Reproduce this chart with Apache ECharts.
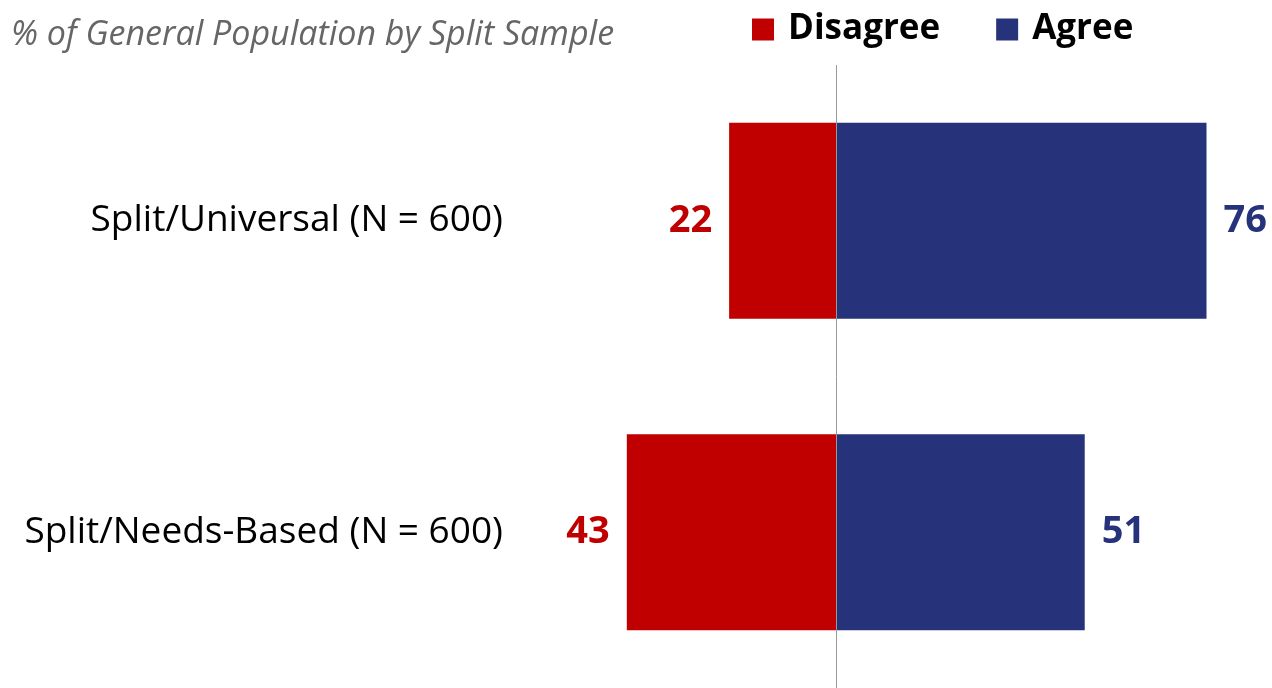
<!DOCTYPE html>
<html>
<head>
<meta charset="utf-8">
<script src="https://cdn.jsdelivr.net/npm/echarts@6/dist/echarts.min.js"></script>
<style>
  html, body { margin: 0; padding: 0; background: #fff; }
  #chart { width: 1272px; height: 688px; }
</style>
</head>
<body>
<div id="chart"></div>
<script>
const categories = ['Split/Universal (N = 600)', 'Split/Needs-Based (N = 600)'];
const disagree = [22, 43];
const agree = [76, 51];

const RED = '#C00000';
const BLUE = '#26337A';
const FONT = '"Open Sans", "Noto Sans", sans-serif';

const chart = echarts.init(document.getElementById('chart'));

const option = {
  animation: false,
  title: {
    text: '% of General Population by Split Sample',
    left: 6,
    top: 13,
    textStyle: {
      fontFamily: FONT,
      fontStyle: 'italic',
      fontWeight: 'normal',
      fontSize: 34,
      color: '#666666'
    }
  },
  legend: {
    data: ['Disagree', 'Agree'],
    left: 747,
    top: 7,
    icon: 'rect',
    itemWidth: 22,
    itemHeight: 22,
    itemGap: 56,
    textStyle: {
      fontFamily: FONT,
      fontWeight: 'bold',
      fontSize: 35,
      color: '#000',
      padding: [0, 0, 0, 9]
    }
  },
  grid: {
    left: 544,
    right: 46,
    top: 65,
    bottom: 0
  },
  xAxis: {
    type: 'value',
    min: -60,
    max: 80,
    axisLine: { show: false },
    axisTick: { show: false },
    axisLabel: { show: false },
    splitLine: { show: false }
  },
  yAxis: {
    type: 'category',
    inverse: true,
    data: categories,
    axisLine: { show: false },
    axisTick: { show: false },
    axisLabel: {
      margin: 41,
      fontFamily: FONT,
      fontSize: 37,
      color: '#000',
      padding: [6, 0, 0, 0]
    }
  },
  series: [
    {
      name: 'Disagree',
      type: 'bar',
      stack: 'total',
      barWidth: 196,
      data: disagree.map(v => -v),
      itemStyle: { color: RED },
      label: {
        show: true,
        position: 'left',
        distance: 17,
        formatter: p => Math.abs(p.value),
        fontFamily: FONT,
        fontWeight: 'bold',
        fontSize: 38,
        color: RED
      }
    },
    {
      name: 'Agree',
      type: 'bar',
      stack: 'total',
      barWidth: 196,
      data: agree,
      itemStyle: { color: BLUE },
      label: {
        show: true,
        position: 'right',
        distance: 17,
        fontFamily: FONT,
        fontWeight: 'bold',
        fontSize: 38,
        color: BLUE
      },
      markLine: {
        silent: true,
        symbol: 'none',
        label: { show: false },
        lineStyle: { color: '#999', width: 1, type: 'solid' },
        data: [{ xAxis: 0 }]
      }
    }
  ]
};

chart.setOption(option);
</script>
</body>
</html>
